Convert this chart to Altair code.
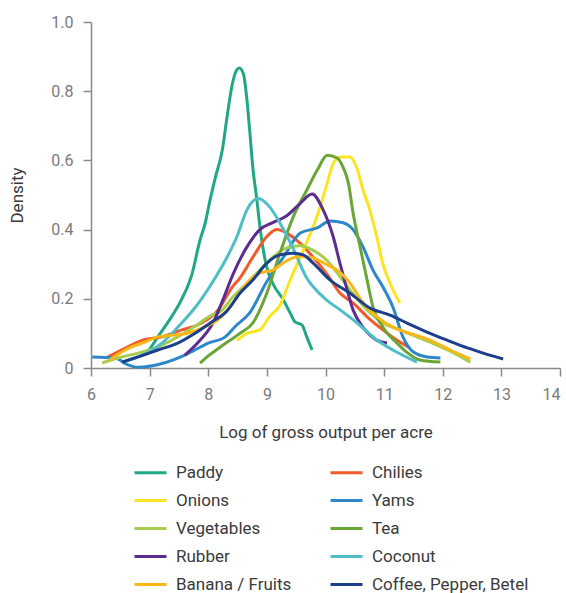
import altair as alt
import pandas as pd

# legend order (column-major fill: first column then second)
series_names = ["Paddy", "Onions", "Vegetables", "Rubber", "Banana / Fruits",
                "Chilies", "Yams", "Tea", "Coconut", "Coffee, Pepper, Betel"]
series_colors = ["#20a886", "#fbe520", "#a6cd4e", "#5c2d91", "#fbb718",
                 "#f15a2b", "#2e87c8", "#6aa636", "#4dbec8", "#1c3f8b"]

paddy_x = [6.85, 7.0, 7.14, 7.38, 7.55, 7.72, 7.86, 7.95, 8.03, 8.12, 8.24, 8.32, 8.41, 8.48, 8.53, 8.6, 8.66, 8.71, 8.76, 8.83, 8.88, 8.94, 9.0, 9.1, 9.28, 9.4, 9.48, 9.6, 9.68, 9.77]
paddy_y = [0.035, 0.055, 0.09, 0.15, 0.20, 0.27, 0.37, 0.42, 0.485, 0.55, 0.63, 0.725, 0.82, 0.86, 0.867, 0.85, 0.775, 0.68, 0.58, 0.485, 0.41, 0.34, 0.29, 0.245, 0.197, 0.158, 0.133, 0.124, 0.09, 0.052]

chilies_x = [6.29, 6.58, 6.87, 7.21, 7.55, 7.83, 8.17, 8.41, 8.54, 8.76, 9.0, 9.17, 9.34, 9.57, 9.79, 10.03, 10.25, 10.47, 10.71, 10.98, 11.22, 11.44]
chilies_y = [0.032, 0.057, 0.08, 0.09, 0.11, 0.125, 0.168, 0.234, 0.26, 0.32, 0.38, 0.40, 0.39, 0.36, 0.32, 0.27, 0.216, 0.188, 0.148, 0.11, 0.08, 0.058]

onions_x = [8.49, 8.66, 8.88, 9.05, 9.22, 9.4, 9.62, 9.86, 10.03, 10.13, 10.25, 10.42, 10.54, 10.64, 10.76, 10.88, 10.98, 11.1, 11.27]
onions_y = [0.08, 0.10, 0.11, 0.15, 0.18, 0.255, 0.34, 0.44, 0.535, 0.59, 0.61, 0.61, 0.575, 0.515, 0.455, 0.375, 0.30, 0.245, 0.188]

yams_x = [6.02, 6.41, 6.63, 6.8, 7.26, 7.6, 8.0, 8.29, 8.46, 8.71, 9.0, 9.28, 9.57, 9.86, 10.08, 10.3, 10.47, 10.64, 10.81, 10.98, 11.15, 11.32, 11.5, 11.73, 11.96]
yams_y = [0.032, 0.029, 0.009, 0.002, 0.015, 0.037, 0.072, 0.09, 0.12, 0.16, 0.25, 0.32, 0.39, 0.405, 0.425, 0.42, 0.40, 0.35, 0.283, 0.234, 0.176, 0.09, 0.046, 0.032, 0.029]

vegetables_x = [6.19, 6.46, 6.8, 7.14, 7.48, 7.77, 8.06, 8.2, 8.42, 8.66, 8.88, 9.1, 9.34, 9.57, 9.79, 10.03, 10.2, 10.42, 10.71, 10.98, 11.27, 11.56, 11.9, 12.25, 12.47]
vegetables_y = [0.015, 0.029, 0.043, 0.06, 0.09, 0.12, 0.153, 0.162, 0.205, 0.245, 0.283, 0.32, 0.347, 0.353, 0.34, 0.31, 0.275, 0.225, 0.168, 0.13, 0.11, 0.09, 0.066, 0.038, 0.017]

tea_x = [7.86, 8.0, 8.2, 8.54, 8.76, 9.0, 9.22, 9.45, 9.68, 9.86, 10.03, 10.2, 10.3, 10.39, 10.47, 10.59, 10.71, 10.81, 10.98, 11.22, 11.39, 11.61, 11.96]
tea_y = [0.014, 0.035, 0.06, 0.10, 0.13, 0.217, 0.33, 0.437, 0.514, 0.572, 0.615, 0.607, 0.58, 0.535, 0.448, 0.35, 0.254, 0.176, 0.118, 0.072, 0.045, 0.023, 0.017]

rubber_x = [7.6, 7.86, 8.08, 8.25, 8.42, 8.66, 8.88, 9.1, 9.34, 9.57, 9.77, 9.96, 10.13, 10.25, 10.37, 10.47, 10.64, 10.88, 11.05]
rubber_y = [0.037, 0.08, 0.13, 0.197, 0.27, 0.35, 0.40, 0.42, 0.44, 0.476, 0.503, 0.457, 0.38, 0.30, 0.225, 0.168, 0.118, 0.08, 0.072]

coconut_x = [6.6, 6.95, 7.23, 7.52, 7.8, 8.08, 8.32, 8.49, 8.66, 8.85, 9.05, 9.22, 9.45, 9.68, 9.9, 10.03, 10.25, 10.54, 10.88, 11.15, 11.56]
coconut_y = [0.02, 0.043, 0.075, 0.125, 0.18, 0.25, 0.32, 0.38, 0.457, 0.49, 0.465, 0.42, 0.345, 0.26, 0.215, 0.195, 0.168, 0.13, 0.08, 0.052, 0.017]

banana_x = [6.32, 6.58, 6.92, 7.14, 7.43, 7.72, 7.95, 8.17, 8.42, 8.66, 8.88, 9.1, 9.34, 9.57, 9.79, 10.03, 10.2, 10.42, 10.64, 10.88, 11.15, 11.44, 11.79, 12.13, 12.47]
banana_y = [0.023, 0.052, 0.075, 0.09, 0.095, 0.104, 0.12, 0.14, 0.188, 0.245, 0.274, 0.283, 0.31, 0.323, 0.318, 0.298, 0.283, 0.245, 0.188, 0.148, 0.118, 0.10, 0.08, 0.052, 0.026]

coffee_x = [6.53, 6.8, 7.14, 7.48, 7.77, 8.06, 8.32, 8.54, 8.76, 9.0, 9.22, 9.45, 9.62, 9.79, 10.08, 10.42, 10.76, 11.1, 11.39, 11.73, 12.08, 12.42, 12.69, 13.03]
coffee_y = [0.017, 0.032, 0.052, 0.072, 0.10, 0.133, 0.165, 0.216, 0.254, 0.303, 0.327, 0.332, 0.327, 0.303, 0.254, 0.216, 0.173, 0.153, 0.13, 0.104, 0.08, 0.058, 0.043, 0.026]

x_ticks = [6, 7, 8, 9, 10, 11, 12, 13, 14]
y_ticks = [0, 0.2, 0.4, 0.6, 0.8, 1.0]

series_data = {
    "Paddy": (paddy_x, paddy_y),
    "Chilies": (chilies_x, chilies_y),
    "Onions": (onions_x, onions_y),
    "Yams": (yams_x, yams_y),
    "Vegetables": (vegetables_x, vegetables_y),
    "Tea": (tea_x, tea_y),
    "Rubber": (rubber_x, rubber_y),
    "Coconut": (coconut_x, coconut_y),
    "Banana / Fruits": (banana_x, banana_y),
    "Coffee, Pepper, Betel": (coffee_x, coffee_y),
}

rows = []
for name, (xs, ys) in series_data.items():
    for i, (xv, yv) in enumerate(zip(xs, ys)):
        rows.append({"crop": name, "x": xv, "y": yv, "i": i})
df = pd.DataFrame(rows)

FONT = "Roboto"

chart = alt.Chart(df).mark_line(strokeWidth=3, interpolate="monotone").encode(
    x=alt.X("x:Q", title="Log of gross output per acre",
            scale=alt.Scale(domain=[6, 14], nice=False),
            axis=alt.Axis(values=x_ticks, format="d", labelFlush=False,
                          labelAlign={"condition": {"test": "datum.value == 14", "value": "right"},
                                      "value": "center"})),
    y=alt.Y("y:Q", title="Density",
            scale=alt.Scale(domain=[0, 1], nice=False),
            axis=alt.Axis(values=y_ticks, labelFlush=False,
                          labelExpr="datum.value == 0 ? '0' : format(datum.value, '.1f')")),
    color=alt.Color("crop:N", title=None,
                    scale=alt.Scale(domain=series_names, range=series_colors),
                    legend=alt.Legend(orient="none", legendX=42, legendY=433, columns=2,
                                      symbolType="stroke", symbolSize=1024,
                                      symbolStrokeWidth=3, labelFontSize=17,
                                      labelFont=FONT, labelColor="#3a3a3a",
                                      rowPadding=2, columnPadding=32,
                                      labelOffset=8)),
    order="i:Q",
    detail="crop:N",
).properties(
    width=469, height=346,
    autosize=alt.AutoSizeParams(type="none"),
    padding={"left": 91, "top": 22, "right": 6, "bottom": 225},
).configure_view(stroke=None).configure_axis(
    grid=False,
    domainColor="#8a8a8a",
    tickColor="#8a8a8a",
    tickSize=8,
    domainWidth=1.5,
    tickWidth=1.5,
    labelFont=FONT,
    labelFontSize=16,
    labelColor="#7a7a7a",
    labelPadding=10,
    titleFont=FONT,
    titleFontSize=17,
    titleFontWeight="normal",
    titleColor="#3a3a3a",
).configure_axisX(titlePadding=22).configure_axisY(titlePadding=24)

chart.save("out.html", embed_options={"renderer": "svg", "actions": False})
